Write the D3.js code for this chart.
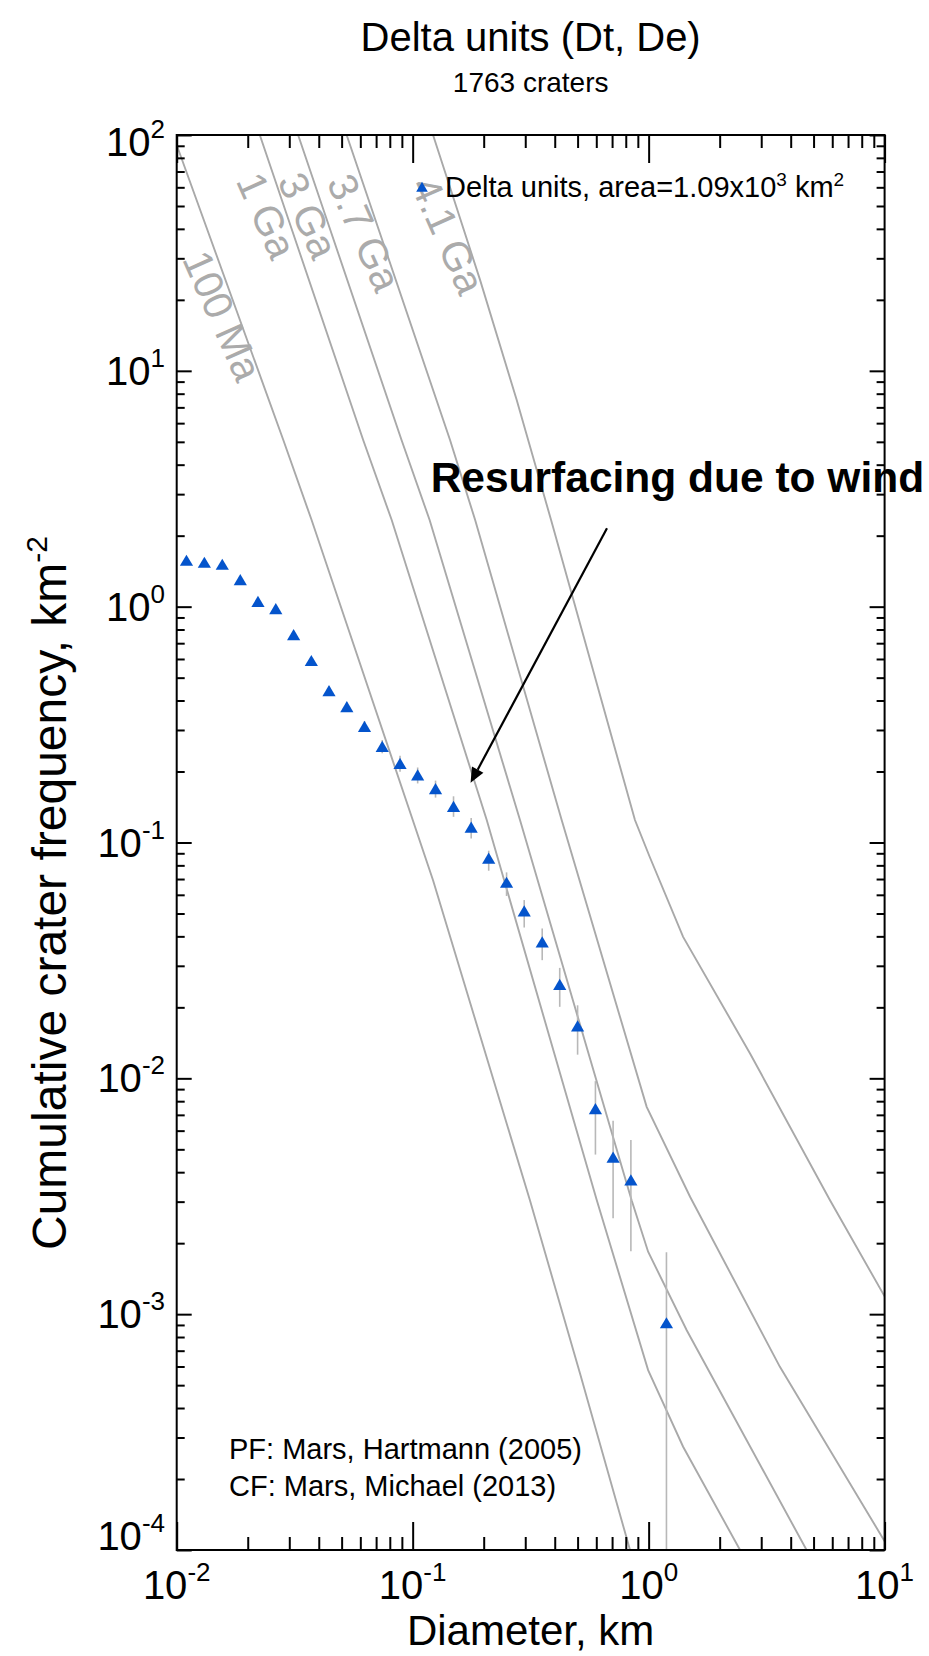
<!DOCTYPE html>
<html>
<head>
<meta charset="utf-8">
<script src="https://cdn.jsdelivr.net/npm/d3@7/dist/d3.min.js"></script>
<style>
	body { margin: 0; background: #fff; }
	text { font-family: "Liberation Sans", Arial, Helvetica, sans-serif; }
</style>
</head>
<body>
<div id="chart"></div>
<script>
// cumulative crater counts, delta units
const diameters = [0.0110, 0.0131, 0.0156, 0.0186, 0.0221, 0.0263, 0.0313, 0.0372, 0.0442, 0.0526,
	0.0625, 0.0743, 0.0884, 0.105, 0.125, 0.149, 0.177, 0.210, 0.250, 0.297,
	0.354, 0.420, 0.500, 0.595, 0.707, 0.841, 1.19]
const frequency = [1.57, 1.54, 1.51, 1.30, 1.05, 0.98, 0.76, 0.59, 0.44, 0.376,
	0.31, 0.255, 0.216, 0.193, 0.169, 0.142, 0.116, 0.0857, 0.0677, 0.0512,
	0.0378, 0.0250, 0.01665, 0.00743, 0.00462, 0.00370, 0.000918]
const errLow = [1.53, 1.50, 1.47, 1.26, 1.02, 0.95, 0.735, 0.57, 0.425, 0.36,
	0.295, 0.239, 0.1995, 0.178, 0.155, 0.1285, 0.104, 0.0759, 0.0593, 0.0436,
	0.0317, 0.0201, 0.0126, 0.00475, 0.00255, 0.00185, 0]
const errHigh = [1.61, 1.58, 1.55, 1.34, 1.08, 1.01, 0.785, 0.61, 0.46, 0.392,
	0.327, 0.272, 0.233, 0.208, 0.183, 0.157, 0.127, 0.0923, 0.0747, 0.0570,
	0.0432, 0.0294, 0.0204, 0.00973, 0.00661, 0.00547, 0.00183]

// isochrons (Hartmann 2005 PF), [diameter km, cumulative frequency]
const iso100Ma = [[0.0100, 90.7], [0.0283, 5.09], [0.0373, 2.33], [0.122, 0.0692], [0.314, 0.00304], [0.512, 0.000560], [0.834, 0.0001]]
const iso1Ga = [[0.0225, 100], [0.0617, 5.09], [0.0815, 2.33], [0.206, 0.1245], [0.603, 0.00304], [0.995, 0.000579], [1.40, 0.000274], [2.44, 0.0001]]
const iso3Ga = [[0.0327, 100], [0.0897, 5.09], [0.118, 2.33], [0.285, 0.1245], [0.847, 0.00304], [0.995, 0.00184], [1.45, 0.000855], [4.67, 0.0001]]
const iso37Ga = [[0.0525, 100], [0.144, 5.09], [0.184, 2.33], [0.428, 0.1245], [0.981, 0.00757], [1.50, 0.00314], [3.60, 0.000598], [10, 0.000109]]
const iso41Ga = [[0.122, 100], [0.193, 24.3], [0.276, 7.52], [0.386, 2.33], [0.875, 0.1245], [1.01, 0.0870], [1.40, 0.0398], [2.69, 0.01275], [5.87, 0.00304], [10, 0.00119]]
const isochrons = [iso100Ma, iso1Ga, iso3Ga, iso37Ga, iso41Ga]
const isoLabels = ['100 Ma', '1 Ga', '3 Ga', '3.7 Ga', '4.1 Ga']
const isoLabelAt = [[0.0156, 17.1], [0.0240, 45.5], [0.0360, 45.5], [0.0622, 38.5], [0.141, 37.5]]

// axis ticks
const xMajor = [0.01, 0.1, 1, 10]
const xExp = ['-2', '-1', '0', '1']
const yMajor = [0.0001, 0.001, 0.01, 0.1, 1, 10, 100]
const yExp = ['-4', '-3', '-2', '-1', '0', '1', '2']

// annotation
const arrowFrom = [0.666, 2.15]
const arrowTo = [0.176, 0.179]
const noteAt = [0.1192, 3.07]

const width = 929
const height = 1656
const pLeft = 176.7, pRight = 884.6, pTop = 135, pBottom = 1550

const svg = d3.select('#chart')
	.append('svg')
	.attr('width', width)
	.attr('height', height)

const x = d3.scaleLog().domain([0.01, 10]).range([pLeft, pRight])
const y = d3.scaleLog().domain([0.0001, 100]).range([pBottom, pTop])

svg.append('clipPath')
	.attr('id', 'plotclip')
	.append('rect')
	.attr('x', pLeft)
	.attr('y', pTop)
	.attr('width', pRight - pLeft)
	.attr('height', pBottom - pTop)

// minor ticks 2..9 in each decade
function minors(domain) {
	const out = []
	for (let e = Math.round(Math.log10(domain[0])); e < Math.round(Math.log10(domain[1])); e++) {
		for (let k = 2; k < 10; k++) out.push(k * Math.pow(10, e))
	}
	return out
}
const xMinor = minors(x.domain())
const yMinor = minors(y.domain())

// ---------------- isochrons ----------------
const plot = svg.append('g').attr('clip-path', 'url(#plotclip)')
const line = d3.line()
	.x(d => x(d[0]))
	.y(d => y(d[1]))

plot.selectAll('.iso')
	.data(isochrons)
	.enter()
	.append('path')
	.attr('class', 'iso')
	.attr('d', line)
	.attr('fill', 'none')
	.attr('stroke', '#a9a9a9')
	.attr('stroke-width', 1.9)

svg.selectAll('.isolabel')
	.data(isoLabels)
	.enter()
	.append('text')
	.attr('class', 'isolabel')
	.attr('transform', (d, i) => 'translate(' + x(isoLabelAt[i][0]) + ',' + y(isoLabelAt[i][1]) + ') rotate(66)')
	.attr('text-anchor', 'middle')
	.attr('dominant-baseline', 'central')
	.attr('font-size', 41)
	.attr('fill', '#ababab')
	.text(d => d)

// ---------------- error bars + points ----------------
plot.selectAll('.err')
	.data(frequency)
	.enter()
	.append('line')
	.attr('class', 'err')
	.attr('x1', (d, i) => x(diameters[i]))
	.attr('x2', (d, i) => x(diameters[i]))
	.attr('y1', (d, i) => y(errHigh[i]))
	.attr('y2', (d, i) => errLow[i] > 0 ? y(errLow[i]) : pBottom)
	.attr('stroke', '#b8b8b8')
	.attr('stroke-width', 1.6)

const tri = 'M0,-5.8L6.6,5.4L-6.6,5.4Z'
svg.selectAll('.pt')
	.data(frequency)
	.enter()
	.append('path')
	.attr('class', 'pt')
	.attr('d', tri)
	.attr('transform', (d, i) => 'translate(' + x(diameters[i]) + ',' + y(d) + ')')
	.attr('fill', '#0454cc')

// ---------------- frame + ticks ----------------
function tickAxis(axisFn, scale, vals, size, shift) {
	svg.append('g')
		.attr('transform', shift)
		.call(axisFn(scale).tickValues(vals).tickSize(size).tickSizeOuter(0).tickFormat(''))
		.call(g => g.select('.domain').remove())
		.call(g => g.selectAll('line').attr('stroke', '#000').attr('stroke-width', 2))
}
tickAxis(d3.axisBottom, x, xMajor, -28, 'translate(0,' + pBottom + ')')
tickAxis(d3.axisBottom, x, xMinor, -13, 'translate(0,' + pBottom + ')')
tickAxis(d3.axisTop, x, xMajor, -28, 'translate(0,' + pTop + ')')
tickAxis(d3.axisTop, x, xMinor, -13, 'translate(0,' + pTop + ')')
tickAxis(d3.axisLeft, y, yMajor, -15, 'translate(' + pLeft + ',0)')
tickAxis(d3.axisLeft, y, yMinor, -8, 'translate(' + pLeft + ',0)')
tickAxis(d3.axisRight, y, yMajor, -15, 'translate(' + pRight + ',0)')
tickAxis(d3.axisRight, y, yMinor, -8, 'translate(' + pRight + ',0)')

svg.append('rect')
	.attr('x', pLeft)
	.attr('y', pTop)
	.attr('width', pRight - pLeft)
	.attr('height', pBottom - pTop)
	.attr('fill', 'none')
	.attr('stroke', '#000')
	.attr('stroke-width', 2)

// tick labels with exponent
svg.selectAll('.xlab')
	.data(xMajor)
	.enter()
	.append('text')
	.attr('class', 'xlab')
	.attr('x', d => x(d))
	.attr('y', 1599)
	.attr('text-anchor', 'middle')
	.attr('font-size', 40)
	.each(function(d, i) {
		d3.select(this).append('tspan').text('10')
		d3.select(this).append('tspan').attr('dy', -18).attr('font-size', 26).text(xExp[i])
	})

// end labels are kept inside the frame height
svg.selectAll('.ylab')
	.data(yMajor)
	.enter()
	.append('text')
	.attr('class', 'ylab')
	.attr('x', 165)
	.attr('y', d => Math.max(pTop + 21, Math.min(pBottom, y(d) + 14)))
	.attr('text-anchor', 'end')
	.attr('font-size', 40)
	.each(function(d, i) {
		d3.select(this).append('tspan').text('10')
		d3.select(this).append('tspan').attr('dy', -18).attr('font-size', 26).text(yExp[i])
	})

// ---------------- titles ----------------
svg.append('text')
	.attr('x', (pLeft + pRight) / 2)
	.attr('y', 51)
	.attr('text-anchor', 'middle')
	.attr('font-size', 40)
	.text('Delta units (Dt, De)')

svg.append('text')
	.attr('x', (pLeft + pRight) / 2)
	.attr('y', 92)
	.attr('text-anchor', 'middle')
	.attr('font-size', 28)
	.text('1763 craters')

svg.append('text')
	.attr('x', (pLeft + pRight) / 2)
	.attr('y', 1645)
	.attr('text-anchor', 'middle')
	.attr('font-size', 42)
	.text('Diameter, km')

const ytitle = svg.append('text')
	.attr('transform', 'translate(66,893) rotate(-90)')
	.attr('text-anchor', 'middle')
	.attr('font-size', 48)
ytitle.append('tspan').text('Cumulative crater frequency, km')
ytitle.append('tspan').attr('dy', -19).attr('font-size', 30).text('-2')

// ---------------- legend ----------------
svg.append('path')
	.attr('d', 'M0,-5.2L5.8,4.8L-5.8,4.8Z')
	.attr('transform', 'translate(422,187)')
	.attr('fill', '#0454cc')

const leg = svg.append('text')
	.attr('x', 445)
	.attr('y', 197)
	.attr('font-size', 29)
leg.append('tspan').text('Delta units, area=1.09x10')
leg.append('tspan').attr('dy', -11).attr('font-size', 19).text('3')
leg.append('tspan').attr('dy', 11).text(' km')
leg.append('tspan').attr('dy', -11).attr('font-size', 19).text('2')

svg.append('text')
	.attr('x', 229)
	.attr('y', 1459)
	.attr('font-size', 29)
	.text('PF: Mars, Hartmann (2005)')
svg.append('text')
	.attr('x', 229)
	.attr('y', 1496)
	.attr('font-size', 29)
	.text('CF: Mars, Michael (2013)')

// ---------------- annotation arrow ----------------
const ax1 = x(arrowFrom[0]), ay1 = y(arrowFrom[1])
const ax2 = x(arrowTo[0]), ay2 = y(arrowTo[1])
const ang = Math.atan2(ay2 - ay1, ax2 - ax1)
const head = 15, half = 6.5
const bx = ax2 - head * Math.cos(ang), by = ay2 - head * Math.sin(ang)

svg.append('line')
	.attr('x1', ax1)
	.attr('y1', ay1)
	.attr('x2', bx)
	.attr('y2', by)
	.attr('stroke', '#000')
	.attr('stroke-width', 2.2)

svg.append('path')
	.attr('d', 'M' + ax2 + ',' + ay2 +
		'L' + (bx + half * Math.sin(ang)) + ',' + (by - half * Math.cos(ang)) +
		'L' + (bx - half * Math.sin(ang)) + ',' + (by + half * Math.cos(ang)) + 'Z')
	.attr('fill', '#000')

svg.append('text')
	.attr('x', x(noteAt[0]))
	.attr('y', y(noteAt[1]))
	.attr('font-size', 42.5)
	.attr('font-weight', 'bold')
	.text('Resurfacing due to wind')
</script>
</body>
</html>
